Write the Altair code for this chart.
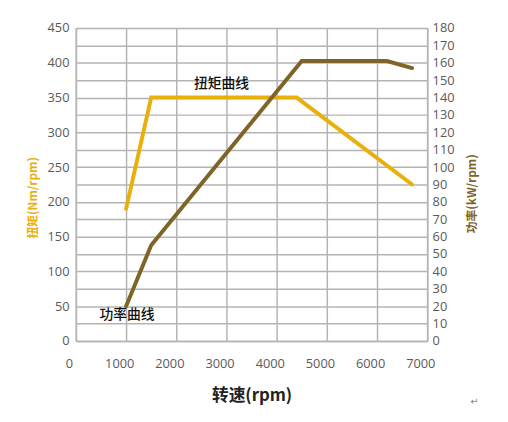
import altair as alt
import pandas as pd

# Data
torque_rpm = [1000, 1500, 4400, 6700]
torque_nm = [190, 350, 350, 225]

power_rpm = [1000, 1500, 4500, 6200, 6700]
power_kw = [20, 55, 161, 161, 157]

torque_label = ["扭矩曲线"]
torque_label_x = [2900]
torque_label_y = [370]

power_label = ["功率曲线"]
power_label_x = [1020]
power_label_y = [15]

x_ticks = [0, 1000, 2000, 3000, 4000, 5000, 6000, 7000]
left_ticks = list(range(0, 451, 50))
right_ticks = list(range(0, 181, 10))

YELLOW = "#E9B00C"
BROWN = "#7E6426"
GRID = "#b4b4b4"
LABEL = "#5a5a5a"
FONT = "Open Sans"
CJK = "Noto Sans CJK SC"

tq = pd.DataFrame({"rpm": torque_rpm, "val": torque_nm})
pw = pd.DataFrame({"rpm": power_rpm, "val": power_kw})
tql = pd.DataFrame({"rpm": torque_label_x, "val": torque_label_y, "t": torque_label})
pwl = pd.DataFrame({"rpm": power_label_x, "val": power_label_y, "t": power_label})

xscale = alt.Scale(domain=[0, 7000], nice=False)
xaxis = alt.Axis(values=x_ticks, format="d", grid=True, gridColor=GRID, gridWidth=1.5,
                 domainColor=GRID, domainWidth=1.5, ticks=False,
                 labelOverlap=False, labelFlush=False,
                 labelPadding=17, labelOffset=-7, labelFont=FONT, labelFontSize=13,
                 labelColor=LABEL, title="转速(rpm)", titleFont=CJK,
                 titleFontSize=17, titleFontWeight="bold", titleColor="#222",
                 titlePadding=18)

lscale = alt.Scale(domain=[0, 450], nice=False)
rscale = alt.Scale(domain=[0, 180], nice=False)

laxis = alt.Axis(orient="left", values=left_ticks, format="d", grid=False, ticks=False,
                 labelOverlap=False, labelFlush=False,
                 domainColor=GRID, domainWidth=1.5, labelPadding=7,
                 labelFont=FONT, labelFontSize=13, labelColor=LABEL,
                 title="扭矩(Nm/rpm)", titleFont=CJK, titleFontSize=12,
                 titleFontWeight="bold", titleColor=YELLOW, titleAngle=270,
                 titlePadding=8, titleY=172)
raxis = alt.Axis(orient="right", values=right_ticks, format="d", grid=True, gridColor=GRID,
                 gridWidth=1.5, ticks=False, domainColor=GRID, domainWidth=1.5,
                 labelOverlap=False, labelFlush=False,
                 labelPadding=5, labelFont=FONT, labelFontSize=13,
                 labelColor=LABEL, title="功率(kW/rpm)", titleFont=CJK,
                 titleFontSize=12, titleFontWeight="bold", titleColor=BROWN,
                 titleAngle=270, titlePadding=25, titleY=168)

torque_line = alt.Chart(tq).mark_line(color=YELLOW, strokeWidth=4, strokeCap="round").encode(
    x=alt.X("rpm:Q", scale=xscale, axis=xaxis),
    y=alt.Y("val:Q", scale=lscale, axis=laxis),
)
torque_text = alt.Chart(tql).mark_text(font=CJK, fontSize=14, color="#111", fontWeight=500).encode(
    x=alt.X("rpm:Q", scale=xscale, axis=xaxis),
    y=alt.Y("val:Q", scale=lscale, axis=laxis),
    text="t:N",
)
power_line = alt.Chart(pw).mark_line(color=BROWN, strokeWidth=4, strokeCap="round").encode(
    x=alt.X("rpm:Q", scale=xscale, axis=xaxis),
    y=alt.Y("val:Q", scale=rscale, axis=raxis),
)
power_text = alt.Chart(pwl).mark_text(font=CJK, fontSize=14, color="#111", fontWeight=500).encode(
    x=alt.X("rpm:Q", scale=xscale, axis=xaxis),
    y=alt.Y("val:Q", scale=rscale, axis=raxis),
    text="t:N",
)
mark = alt.Chart(pd.DataFrame({"t": ["↵"]})).mark_text(fontSize=10, color="#888", font="DejaVu Sans").encode(
    x=alt.value(405), y=alt.value(380), text="t:N"
)

left_layer = alt.layer(torque_line, torque_text)
right_layer = alt.layer(power_line, power_text)

chart = alt.layer(left_layer, right_layer, mark).resolve_scale(y="independent").properties(
    width=357, height=318,
    autosize=alt.AutoSizeParams(type="none"),
    padding={"left": 69, "top": 17, "right": 74, "bottom": 79},
).configure_view(stroke=GRID, strokeWidth=1.5).configure(background="white")

chart.save("out.html", embed_options={"renderer": "svg", "actions": False})
